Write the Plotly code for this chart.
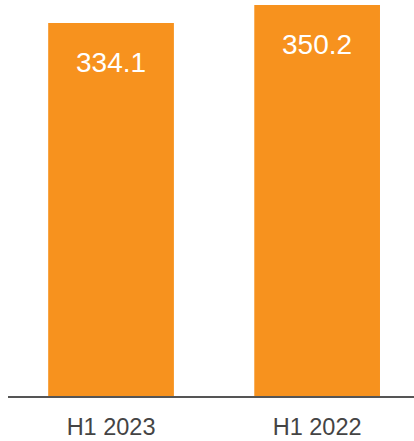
import plotly.graph_objects as go

categories = ["H1 2023", "H1 2022"]
values = [334.1, 350.2]
labels = ["334.1", "350.2"]

BAR_COLOR = "#F7921E"
FONT = "Liberation Sans, Arial, sans-serif"

fig = go.Figure()
fig.add_trace(go.Bar(
    x=categories,
    y=values,
    marker=dict(color=BAR_COLOR, line=dict(width=0)),
    hoverinfo="skip",
))

for c, v, t in zip(categories, values, labels):
    fig.add_annotation(
        x=c, y=v, text=t, showarrow=False,
        xanchor="center", yanchor="top", yshift=-22,
        font=dict(family=FONT, size=28, color="white"),
    )

fig.update_layout(
    width=414, height=441,
    margin=dict(l=8, r=0, t=0, b=45),
    paper_bgcolor="white", plot_bgcolor="white",
    bargap=0.39,
    showlegend=False,
    xaxis=dict(
        range=[-0.5, 1.47],
        showline=True, linecolor="#555555", linewidth=1.7,
        showgrid=False, zeroline=False,
        ticks="outside", ticklen=9, tickcolor="rgba(0,0,0,0)",
        tickfont=dict(family=FONT, size=23.5, color="#444444"),
    ),
    yaxis=dict(
        range=[0, 354.7],
        visible=False, showgrid=False, zeroline=False,
    ),
)

fig.write_html(
    "out.html",
    config={"displayModeBar": False, "staticPlot": True},
    post_script="document.body.style.margin='0';document.body.style.padding='0';",
)
